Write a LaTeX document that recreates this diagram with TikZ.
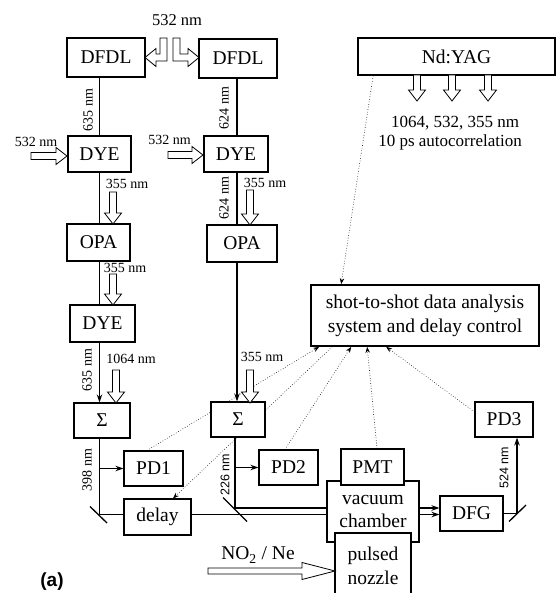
\documentclass[tikz,border=0pt]{standalone}
\usepackage{fontspec}
\setmainfont{Liberation Serif}
\newfontfamily\sansf{Liberation Sans}
\usetikzlibrary{arrows.meta,calc,backgrounds}
\newcommand\HollowDown[3]{%
  \draw[hollow] (#1-3.5,#2) -- (#1+3.5,#2) -- (#1+3.5,#2+#3-11) -- (#1+8.5,#2+#3-11) -- (#1,#2+#3) -- (#1-8.5,#2+#3-11) -- (#1-3.5,#2+#3-11) -- cycle;}
\newcommand\HollowRight[3]{%
  \draw[hollow] (#1,#2-3.5) -- (#1+#3-11,#2-3.5) -- (#1+#3-11,#2-8.5) -- (#1+#3,#2) -- (#1+#3-11,#2+8.5) -- (#1+#3-11,#2+3.5) -- (#1,#2+3.5) -- cycle;}
\begin{document}
\begin{tikzpicture}[x=1pt,y=-1pt,
  box/.style={draw,line width=1.1pt,fill=white,inner sep=0pt,align=center,font=\fontsize{19.5}{23.5}\selectfont},
  bigbox/.style={box,line width=1.7pt},
  lbl/.style={inner sep=0pt,font=\fontsize{14}{16}\selectfont},
  slbl/.style={inner sep=0pt,font=\sansf\fontsize{12.5}{14}\selectfont},
  captext/.style={inner sep=0pt,font=\fontsize{17}{20}\selectfont},
  beam/.style={line width=1.3pt},
  tip/.style={-{Stealth[length=8pt,width=5.5pt]}},
  hollow/.style={draw,line width=0.8pt,fill=white},
  ctl/.style={dotted,line width=0.6pt,-{Stealth[length=6pt,width=4.5pt]}},
  mirror/.style={line width=1.3pt}
]
\useasboundingbox (0,0) rectangle (556,593);

% boxes
\node[box,minimum width=78pt,minimum height=39pt] (dfdlL) at (106,57.5) {DFDL};
\node[box,minimum width=78pt,minimum height=39pt] (dfdlR) at (238,58.5) {DFDL};
\node[box,minimum width=63pt,minimum height=36pt] (dyeL) at (99.5,154) {DYE};
\node[box,minimum width=64pt,minimum height=36pt] (dyeR) at (236,154) {DYE};
\node[box,minimum width=63pt,minimum height=37pt] (opaL) at (98.5,242.5) {OPA};
\node[box,minimum width=70pt,minimum height=37pt] (opaR) at (242,243.5) {OPA};
\node[box,minimum width=65pt,minimum height=37pt] (dye2L) at (102.5,323.5) {DYE};
\node[box,minimum width=56pt,minimum height=35pt] (sigL) at (102,420.5) {Σ};
\node[box,minimum width=54pt,minimum height=35pt] (sigR) at (238,419.5) {Σ};
\node[box,minimum width=59pt,minimum height=35pt] (pd1) at (153.5,468.5) {PD1};
\node[box,minimum width=67pt,minimum height=36pt] (delay) at (157.5,517) {delay};
\node[box,minimum width=59pt,minimum height=35pt] (pd2) at (288.5,467.5) {PD2};
\node[box,line width=1.5pt,minimum width=92pt,minimum height=61pt] (chamber) at (373,511.5) {vacuum\\chamber};
\node[box,minimum width=63pt,minimum height=36pt] (pmt) at (372.5,467) {PMT};
\node[box,line width=1.5pt,minimum width=76pt,minimum height=66pt] (nozzle) at (373,566) {pulsed\\nozzle};
\node[box,minimum width=63pt,minimum height=35pt] (dfg) at (471.5,513.5) {DFG};
\node[box,minimum width=58pt,minimum height=35pt] (pd3) at (504,419.5) {PD3};
\node[bigbox,minimum width=197pt,minimum height=37pt] (ndyag) at (456.5,56.5) {Nd:YAG};
\node[bigbox,minimum width=228pt,minimum height=61pt,font=\fontsize{19.5}{24}\selectfont] (analysis) at (425,315.5) {shot-to-shot data analysis\\system and delay control};

% dotted control lines (behind boxes)
\begin{pgfonlayer}{background}
\draw[ctl] ($(ndyag.south west)+(16,0)$) -- ($(analysis.north west)+(31,0)$);
\draw[ctl] ($(pd1.north)+(-6.5,0)$) -- ($(analysis.south west)+(9,0)$);
\draw[ctl] ($(analysis.south west)+(22,0)$) -- ($(delay.north)+(15.5,0)$);
\draw[ctl] ($(pd2.north)+(-3.5,0)$) -- ($(analysis.south west)+(41,0)$);
\draw[ctl] ($(pmt.north)+(4.5,0)$) -- ($(analysis.south west)+(57,0)$);
\draw[ctl] ($(pd3.west)+(0,-7.5)$) -- ($(analysis.south west)+(76,0)$);
\end{pgfonlayer}

% beams
\coordinate (xL) at (99.5,0);
\coordinate (xR) at (237,0);
\coordinate (xR2) at (235,0);
\coordinate (yA) at (0,508);
\coordinate (yB) at (0,514.5);
\coordinate (mL) at (99.5,514.5);
\coordinate (mR) at (235,508);
\coordinate (m3) at (517,513.5);

\draw[beam] (xL |- dfdlL.south) -- (xL |- dyeL.north);
\draw[beam] (xL |- dyeL.south) -- (xL |- opaL.north);
\draw[beam] (xL |- opaL.south) -- (xL |- dye2L.north);
\draw[beam,tip] (xL |- dye2L.south) -- (xL |- sigL.north);
\draw[beam] (xL |- sigL.south) -- (mL) -- (mL -| delay.west);
\draw[beam,tip] (xL |- pd1.west) -- (pd1.west);
\draw[beam] (mL -| delay.east) -- (yB -| chamber.west);
\draw[mirror] ($(mL)+(-9.5,-8)$) -- ($(mL)+(7.5,8.5)$);

\draw[beam] (xR |- dfdlR.south) -- (xR |- dyeR.north);
\draw[beam] (xR |- dyeR.south) -- (xR |- opaR.north);
\draw[beam,tip] (xR |- opaR.south) -- (xR |- sigR.north);
\draw[beam] (xR2 |- sigR.south) -- (mR) -- (yA -| chamber.west);
\draw[beam,tip] (xR2 |- pd2.west) -- (pd2.west);
\draw[mirror] (223,497.5) -- (247,521.5);

\draw[beam,tip] (yA -| chamber.east) -- (yA -| dfg.west);
\draw[beam,tip] (yB -| chamber.east) -- (yB -| dfg.west);
\draw[beam] (dfg.east |- m3) -- (m3);
\draw[beam,tip] (m3) -- (m3 |- pd3.south);
\draw[mirror] (509,521.5) -- (526,505);

% hollow arrows
\HollowDown{113}{192}{32}
\HollowDown{113}{274}{31}
\HollowDown{116}{370}{33}
\HollowDown{250}{190}{35}
\HollowDown{250}{370}{33}
\HollowDown{417}{75}{26}
\HollowDown{452}{75}{26}
\HollowDown{488}{75}{26}
\HollowRight{31}{156}{36}
\HollowRight{168}{155}{35}
\draw[hollow] (160,38) -- (167,38) -- (167,61) -- (156,61) -- (156,66.5) -- (145,57.5) -- (156,48.5) -- (156,54) -- (160,54) -- cycle;
\draw[hollow] (180,38) -- (173,38) -- (173,61) -- (188,61) -- (188,66.5) -- (199,57.5) -- (188,48.5) -- (188,54) -- (180,54) -- cycle;
\draw[hollow] (208,568) -- (302,568) -- (302,562.5) -- (335,571) -- (302,579.5) -- (302,574) -- (208,574) -- cycle;

% labels
\node[inner sep=0pt,font=\fontsize{16.5}{19}\selectfont] (l532top) at (177,20) {532 nm};
\node[lbl,rotate=90] (l635a) at (88,110) {635 nm};
\node[lbl,rotate=90] (l624a) at (224,108) {624 nm};
\node[lbl] (l532L) at (36,142) {532 nm};
\node[lbl] (l532R) at (169.5,140) {532 nm};
\node[lbl] (l355a) at (127,184) {355 nm};
\node[lbl,rotate=90] (l624b) at (224,198) {624 nm};
\node[lbl] (l355b) at (265,183) {355 nm};
\node[lbl] (l355c) at (125,268) {355 nm};
\node[lbl,rotate=90] (l635b) at (87,370) {635 nm};
\node[lbl] (l1064) at (131,359) {1064 nm};
\node[lbl] (l355d) at (262,357) {355 nm};
\node[lbl,rotate=90] (l398) at (87,470) {398 nm};
\node[slbl,rotate=90] (l226) at (225,475) {226 nm};
\node[slbl,rotate=90] (l524) at (504,468) {524 nm};
\node[captext] (lwl) at (455,123) {1064, 532, 355 nm};
\node[captext] (lac) at (450,142) {10 ps autocorrelation};
\node[inner sep=0pt,font=\fontsize{19.5}{22}\selectfont] (lno2) at (258,555) {NO\textsubscript{2} / Ne};
\node[inner sep=0pt,font=\sansf\bfseries\fontsize{19}{22}\selectfont] (la) at (52,582) {(a)};
\end{tikzpicture}
\end{document}
